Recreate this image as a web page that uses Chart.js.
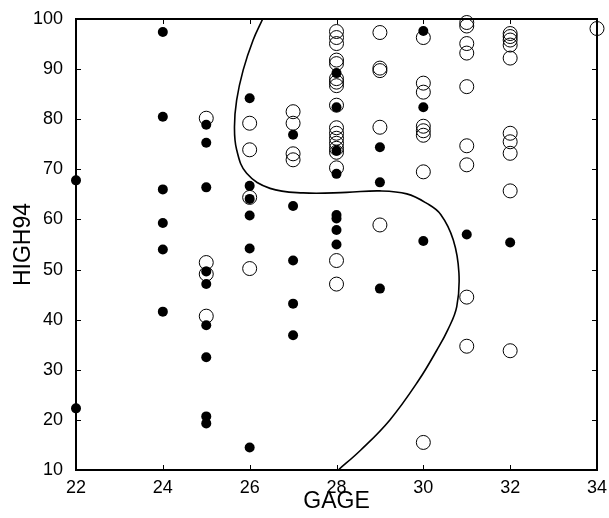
<!DOCTYPE html>
<html>
<head>
<meta charset="utf-8">
<script src="https://cdn.jsdelivr.net/npm/chart.js@4.4.0/dist/chart.umd.min.js"></script>
<style>
  html, body { margin: 0; padding: 0; background: #fff; }
  #wrap { width: 609px; height: 518px; }
</style>
</head>
<body>
<div id="wrap"><canvas id="chart"></canvas></div>
<script>
// filled markers (class 0)
const filledX = [22, 22,
  24, 24, 24, 24, 24, 24,
  25, 25, 25, 25, 25, 25, 25, 25, 25,
  26, 26, 26, 26, 26, 26,
  27, 27, 27, 27, 27,
  28, 28, 28, 28, 28, 28, 28, 28,
  29, 29, 29,
  30, 30, 30,
  31, 32];
const filledY = [67.8, 22.3,
  97.4, 80.5, 66.0, 59.3, 54.0, 41.6,
  78.9, 75.3, 66.4, 49.6, 47.1, 38.9, 32.5, 20.7, 19.3,
  84.2, 66.7, 64.1, 60.8, 54.2, 14.5,
  76.9, 62.7, 51.8, 43.2, 36.9,
  89.2, 82.4, 73.7, 69.1, 60.9, 60.2, 57.9, 55.0,
  74.4, 67.4, 46.2,
  97.6, 82.4, 55.7,
  57.0, 55.4];

// open markers (class 1)
const openX = [25, 25, 25, 25,
  26, 26, 26, 26,
  27, 27, 27, 27,
  28, 28, 28, 28, 28, 28, 28, 28, 28, 28, 28, 28, 28, 28, 28, 28, 28, 28,
  29, 29, 29, 29, 29,
  30, 30, 30, 30, 30, 30, 30, 30,
  31, 31, 31, 31, 31, 31, 31, 31, 31,
  32, 32, 32, 32, 32, 32, 32, 32, 32, 32,
  34];
const openY = [80.2, 51.4, 49.1, 40.7,
  79.2, 73.9, 64.4, 50.2,
  81.5, 79.2, 73.1, 71.9,
  97.5, 96.3, 95.1, 91.8, 91.1, 88.1, 87.4, 86.7, 82.8, 78.3, 77.2, 76.2, 75.2, 74.2, 73.4, 70.3, 51.8, 47.1,
  97.3, 90.2, 89.7, 78.4, 58.9,
  96.3, 87.2, 85.4, 78.6, 77.7, 76.8, 69.5, 15.5,
  99.3, 98.6, 95.1, 93.2, 86.5, 74.7, 70.9, 44.5, 34.7,
  97.1, 96.5, 95.8, 94.8, 92.2, 77.2, 75.5, 73.2, 65.7, 33.8,
  98.1];

// decision boundary, traced from top to bottom
const curveX = [26.30, 26.08, 25.85, 25.70, 25.65, 25.70, 25.93, 26.47, 27.23, 28.23, 29.00, 29.62,
  30.08, 30.40, 30.69, 30.82, 30.77, 30.56, 30.31, 29.90, 29.23, 28.56, 28.04];
const curveY = [100, 95.8, 89.8, 83.8, 78.5, 73.9, 69.2, 66.2, 65.3, 65.4, 65.7, 65.1,
  63.2, 61.0, 55.9, 49.3, 42.6, 37.9, 33.9, 28.0, 20.0, 14.0, 10];

const xTicks = [22, 24, 26, 28, 30, 32, 34];
const yTicks = [10, 20, 30, 40, 50, 60, 70, 80, 90, 100];

const toPoints = (xs, ys) => xs.map((x, i) => ({ x: x, y: ys[i] }));

// MATLAB style box with inward ticks on all four sides
const boxPlugin = {
  id: 'box',
  afterDraw(chart) {
    const { ctx, chartArea: a, scales } = chart;
    const len = 5;
    ctx.save();
    ctx.strokeStyle = '#000';
    ctx.lineWidth = 1;
    ctx.beginPath();
    xTicks.forEach(v => {
      const px = Math.round(scales.x.getPixelForValue(v)) + 0.5;
      ctx.moveTo(px, a.bottom); ctx.lineTo(px, a.bottom - len);
      ctx.moveTo(px, a.top); ctx.lineTo(px, a.top + len);
    });
    yTicks.forEach(v => {
      const py = Math.round(scales.y.getPixelForValue(v)) + 0.5;
      ctx.moveTo(a.left, py); ctx.lineTo(a.left + len, py);
      ctx.moveTo(a.right, py); ctx.lineTo(a.right - len, py);
    });
    ctx.stroke();
    ctx.lineWidth = 2;
    ctx.strokeRect(a.left, a.top, a.right - a.left, a.bottom - a.top);
    ctx.restore();
  }
};

const tickFont = { family: 'Liberation Sans', size: 18 };
const titleFont = { family: 'Liberation Sans', size: 23 };

new Chart(document.getElementById('chart'), {
  type: 'scatter',
  data: {
    datasets: [
      {
        data: toPoints(filledX, filledY),
        pointRadius: 5,
        pointBackgroundColor: '#000',
        pointBorderColor: '#000',
        pointBorderWidth: 0,
        clip: false
      },
      {
        data: toPoints(openX, openY),
        pointRadius: 7,
        pointBackgroundColor: 'rgba(0,0,0,0)',
        pointBorderColor: '#000',
        pointBorderWidth: 1,
        clip: false
      },
      {
        data: toPoints(curveX, curveY),
        showLine: true,
        pointRadius: 0,
        borderColor: '#000',
        borderWidth: 1.6,
        tension: 0.4
      }
    ]
  },
  options: {
    responsive: true,
    maintainAspectRatio: false,
    animation: false,
    events: [],
    layout: { padding: { left: 0, top: 19, right: 12, bottom: 0 } },
    plugins: { legend: { display: false }, tooltip: { enabled: false } },
    scales: {
      x: {
        type: 'linear',
        min: 22, max: 34,
        afterBuildTicks: s => { s.ticks = xTicks.map(v => ({ value: v })); },
        afterFit: s => { s.height = 48; },
        grid: { display: false },
        border: { display: false },
        ticks: { color: '#000', font: tickFont, padding: -1, maxRotation: 0 },
        title: { display: true, text: 'GAGE', color: '#000', font: titleFont, padding: { top: 0, bottom: 3 } }
      },
      y: {
        type: 'linear',
        min: 10, max: 100,
        afterBuildTicks: s => { s.ticks = yTicks.map(v => ({ value: v })); },
        afterFit: s => { s.width = 76; },
        grid: { display: false },
        border: { display: false },
        ticks: { color: '#000', font: tickFont, padding: 5 },
        title: { display: true, text: 'HIGH94', color: '#000', font: titleFont, padding: { top: 10, bottom: 0 } }
      }
    }
  },
  plugins: [boxPlugin]
});
</script>
</body>
</html>
